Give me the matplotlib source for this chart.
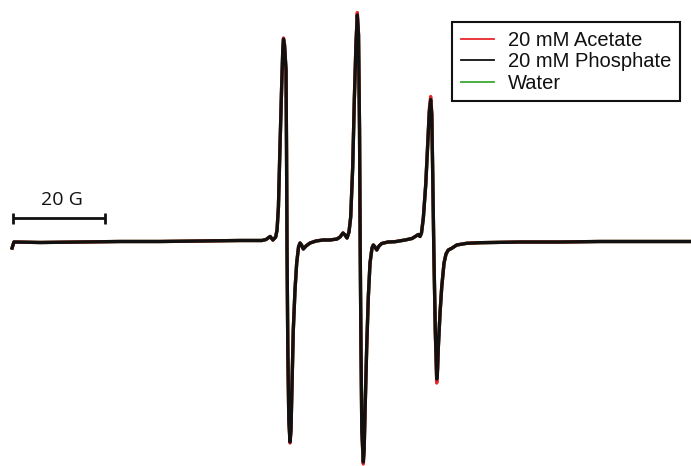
import matplotlib
matplotlib.use("Agg")
import matplotlib.pyplot as plt
from matplotlib.lines import Line2D
from matplotlib.font_manager import FontProperties

# Magnetic field offset (G) and EPR derivative intensity (a.u.)
field_G = [-0.2, 0.2, 5.9, 14.6, 23.3, 32.0, 40.7, 49.3, 54.1, 55.0,
           55.9, 56.5, 57.1, 57.4, 57.7, 58.0, 58.4, 58.65, 58.8, 59.02,
           59.35, 59.46, 59.57, 59.74, 59.96, 60.22, 60.43, 60.59, 60.93, 61.30,
           61.67, 62.07, 62.39, 62.72, 63.11, 63.70, 64.57, 65.87, 67.39, 68.91,
           70.43, 71.09, 71.74, 72.17, 72.61, 73.04, 73.41, 73.85, 74.20, 74.57,
           74.85, 75.11, 75.33, 75.48, 75.65, 75.83, 76.15, 76.33, 76.52, 76.89,
           77.24, 77.61, 78.04, 78.33, 78.70, 79.07, 79.57, 80.15, 81.52, 83.04,
           85.22, 86.74, 87.61, 88.11, 88.48, 88.80, 89.20, 89.72, 90.15, 90.50,
           90.80, 91.04, 91.26, 91.48, 91.80, 92.11, 92.28, 92.46, 92.83, 93.20,
           93.70, 94.13, 94.63, 95.37, 96.46, 98.63, 101.52, 110.22, 118.91, 127.61,
           136.30, 147.39]

phosphate = [-6, 0, -0.5, 0, 0.5, 0.5, 1, 1.5, 1.5, 2.5,
             5.5, 2, 5, 12, 35, 89, 155, 192, 203, 197,
             172, 92, -8, -108, -178, -200, -188, -155, -88, -48,
             -21, -5, -1, -3, -7, -4, -1, 1, 2, 2,
             3, 5, 9, 7, 4, 10, 25, 75, 142, 199,
             227, 207, 112, -8, -108, -188, -220, -208, -171, -105,
             -55, -21, -6, -3, -5, -8, -4, -1.5, 0, 0.3,
             2, 3.5, 6, 7.5, 5.5, 9, 24, 57, 97, 130,
             142.5, 127, 62, -8, -88, -137, -128, -105, -71, -45,
             -21, -12, -8, -6.3, -3, -1.3, -0.7, 0, 0, 0.5,
             0.5, 0.5]

acetate = [-6, 0, -0.5, 0, 0.5, 0.5, 1, 1.5, 1.5, 2.5,
           5.5, 2, 5, 12, 35, 89, 156, 193, 204, 198,
           172, 92, -8, -108, -179, -201, -189, -155, -88, -48,
           -21, -5, -1, -3, -7, -4, -1, 1, 2, 2,
           3, 5, 9, 7, 4, 10, 25, 76, 144, 201,
           229.5, 208, 112, -8, -109, -190, -222, -209, -172, -105,
           -55, -21, -6, -3, -5, -8, -4, -1.5, 0, 0.3,
           2, 3.5, 6, 7.5, 5.5, 9, 24, 58, 99, 133,
           145.5, 129, 62, -8, -90, -141, -131, -106, -71, -45,
           -21, -12, -8, -6.3, -3, -1.3, -0.7, 0, 0, 0.5,
           0.5, 0.5]

water = [-6, 0, -0.5, 0, 0.5, 0.5, 1, 1.5, 1.5, 2.5,
         5.5, 2, 5, 12, 35, 89, 155, 192, 202, 196,
         171, 92, -8, -107, -177, -199, -187, -154, -88, -48,
         -21, -5, -1, -3, -7, -4, -1, 1, 2, 2,
         3, 5, 9, 7, 4, 10, 25, 75, 141, 198,
         226, 206, 112, -8, -107, -187, -219, -207, -170, -105,
         -55, -21, -6, -3, -5, -8, -4, -1.5, 0, 0.3,
         2, 3.5, 6, 7.5, 5.5, 9, 24, 57, 96, 129,
         141.5, 126, 62, -8, -87, -136, -127, -104, -71, -45,
         -21, -12, -8, -6.3, -3, -1.3, -0.7, 0, 0, 0.5,
         0.5, 0.5]

series_labels = ["20 mM Acetate", "20 mM Phosphate", "Water"]
series_colors = ["#e8262a", "#111111", "#3aa935"]

scale_bar_G = [0, 20]
scale_bar_label = "20 G"

fig = plt.figure(figsize=(6.91, 4.66), dpi=100)
ax = fig.add_axes([0, 0, 1, 1])
ax.set_xlim(-2.83, 147.39)
ax.set_ylim(-224, 242)
ax.axis("off")

lw = 2.4
ax.plot(field_G, water, color=series_colors[2], lw=lw, solid_joinstyle="round")
ax.plot(field_G, acetate, color=series_colors[0], lw=lw, solid_joinstyle="round")
ax.plot(field_G, phosphate, color=series_colors[1], lw=lw, solid_joinstyle="round")

# scale bar
ybar = 24
ax.plot(scale_bar_G, [ybar, ybar], color="#111111", lw=2.0, solid_capstyle="butt")
for xg in scale_bar_G:
    ax.plot([xg, xg], [ybar - 5.5, ybar + 5.5], color="#111111", lw=2.0, solid_capstyle="butt")
ax.text(10.6, 37, scale_bar_label, ha="center", va="baseline",
        fontsize=14, family=["Open Sans", "DejaVu Sans"], color="#111111")

handles = [Line2D([], [], color=c, lw=1.3) for c in series_colors]
leg = ax.legend(handles, series_labels, loc="upper left",
                bbox_to_anchor=(452.3 / 691, 1 - 22.3 / 466),
                bbox_transform=fig.transFigure,
                frameon=True, fancybox=False, edgecolor="#111111", framealpha=1,
                borderaxespad=0, borderpad=0.42, handlelength=1.65,
                handletextpad=0.7, labelspacing=0.13,
                prop=FontProperties(family="Liberation Sans", size=14.5))
leg.get_frame().set_linewidth(1.5)
for t in leg.get_texts():
    t.set_color("#111111")

fig.savefig("out.png", dpi=100)
